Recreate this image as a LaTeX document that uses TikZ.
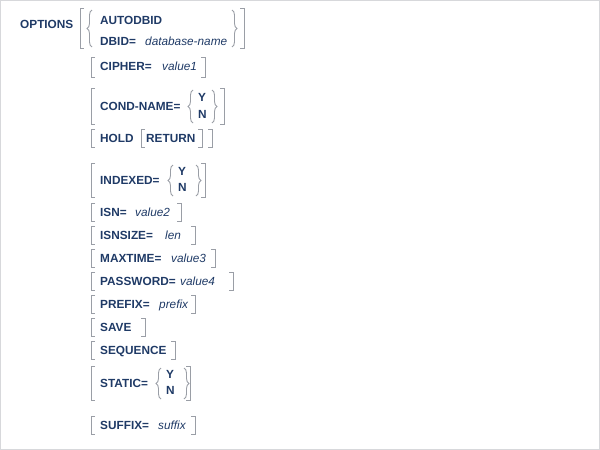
\documentclass[tikz,border=0pt]{standalone}
\usepackage{fontspec}
\setmainfont{Liberation Sans}
\usetikzlibrary{decorations.pathreplacing}
\definecolor{kwblue}{HTML}{1F3A66}
\definecolor{brkgray}{HTML}{9A9EA6}

\newcommand\lbrk[3]{\draw[brk] (#1+4,#2) -- (#1,#2) -- (#1,#3) -- (#1+4,#3);}
\newcommand\rbrk[3]{\draw[brk] (#1-4,#2) -- (#1,#2) -- (#1,#3) -- (#1-4,#3);}
\newcommand\lbrc[3]{\draw[brc] (#1,#3) -- (#1,#2);}
\newcommand\rbrc[3]{\draw[brc] (#1,#2) -- (#1,#3);}

\begin{document}
\begin{tikzpicture}[x=1pt,y=-1pt,
  kw/.style={anchor=base west,inner sep=0,text=kwblue,font=\fontsize{11.8}{13}\selectfont\bfseries},
  arg/.style={anchor=base west,inner sep=0,text=kwblue,font=\fontsize{11.8}{13}\selectfont\itshape},
  brk/.style={draw=brkgray,line width=0.9pt},
  brc/.style={draw=brkgray,line width=0.9pt,decorate,decoration={brace,amplitude=5pt,aspect=0.5}}]
\useasboundingbox (0,0) rectangle (600,450);
\draw[brkgray!40] (0.5,0.5) rectangle (599.5,449.5);

% OPTIONS
\node[kw] (options) at (20,28) {OPTIONS};
\lbrk{80}{8}{48} \rbrk{244}{8}{48}
\lbrc{92}{10}{47} \rbrc{232}{10}{47}
\node[kw] (autodbid) at (100,24) {AUTODBID};
\node[kw] (dbid) at (100,45) {DBID=};
\node[arg] (dbname) at (145,45) {database-name};

% CIPHER
\lbrk{91}{57}{77} \rbrk{205}{57}{77}
\node[kw] (cipher) at (100,70) {CIPHER=};
\node[arg] (value1) at (162,70) {value1};

% COND-NAME
\lbrk{91}{88}{124} \rbrk{224}{88}{124}
\node[kw] (condname) at (100,110) {COND-NAME=};
\lbrc{193}{90}{123} \rbrc{212}{90}{123}
\node[kw] (cny) at (198,101) {Y};
\node[kw] (cnn) at (198,118) {N};

% HOLD
\lbrk{91}{129}{147} \rbrk{212}{129}{147}
\node[kw] (hold) at (100,142) {HOLD};
\lbrk{141}{129}{147} \rbrk{202}{129}{147}
\node[kw] (return) at (146,142) {RETURN};

% INDEXED
\lbrk{91}{163}{197} \rbrk{205}{163}{197}
\node[kw] (indexed) at (100,184) {INDEXED=};
\lbrc{173}{165}{196} \rbrc{196}{165}{196}
\node[kw] (ixy) at (178,175) {Y};
\node[kw] (ixn) at (178,191) {N};

% ISN .. PREFIX
\lbrk{91}{203}{221} \rbrk{181}{203}{221}
\node[kw] (isn) at (100,216) {ISN=};
\node[arg] (value2) at (135,216) {value2};

\lbrk{91}{226}{244} \rbrk{195}{226}{244}
\node[kw] (isnsize) at (100,239) {ISNSIZE=};
\node[arg] (len) at (165,239) {len};

\lbrk{91}{249}{267} \rbrk{215}{249}{267}
\node[kw] (maxtime) at (100,262) {MAXTIME=};
\node[arg] (value3) at (171,262) {value3};

\lbrk{91}{272}{290} \rbrk{233}{272}{290}
\node[kw] (password) at (100,285) {PASSWORD=};
\node[arg] (value4) at (180,285) {value4};

\lbrk{91}{295}{313} \rbrk{195}{295}{313}
\node[kw] (prefix) at (100,308) {PREFIX=};
\node[arg] (prefixv) at (159,308) {prefix};

% SAVE, SEQUENCE
\lbrk{91}{318}{336} \rbrk{145}{318}{336}
\node[kw] (save) at (100,331) {SAVE};

\lbrk{91}{341}{359} \rbrk{175}{341}{359}
\node[kw] (sequence) at (100,354) {SEQUENCE};

% STATIC
\lbrk{91}{366}{400} \rbrk{190}{366}{400}
\node[kw] (static) at (100,387) {STATIC=};
\lbrc{161}{368}{399} \rbrc{184}{368}{399}
\node[kw] (sty) at (166,378) {Y};
\node[kw] (stn) at (166,394) {N};

% SUFFIX
\lbrk{91}{416}{434} \rbrk{195}{416}{434}
\node[kw] (suffix) at (100,429) {SUFFIX=};
\node[arg] (suffixv) at (158,429) {suffix};
\end{tikzpicture}
\end{document}
